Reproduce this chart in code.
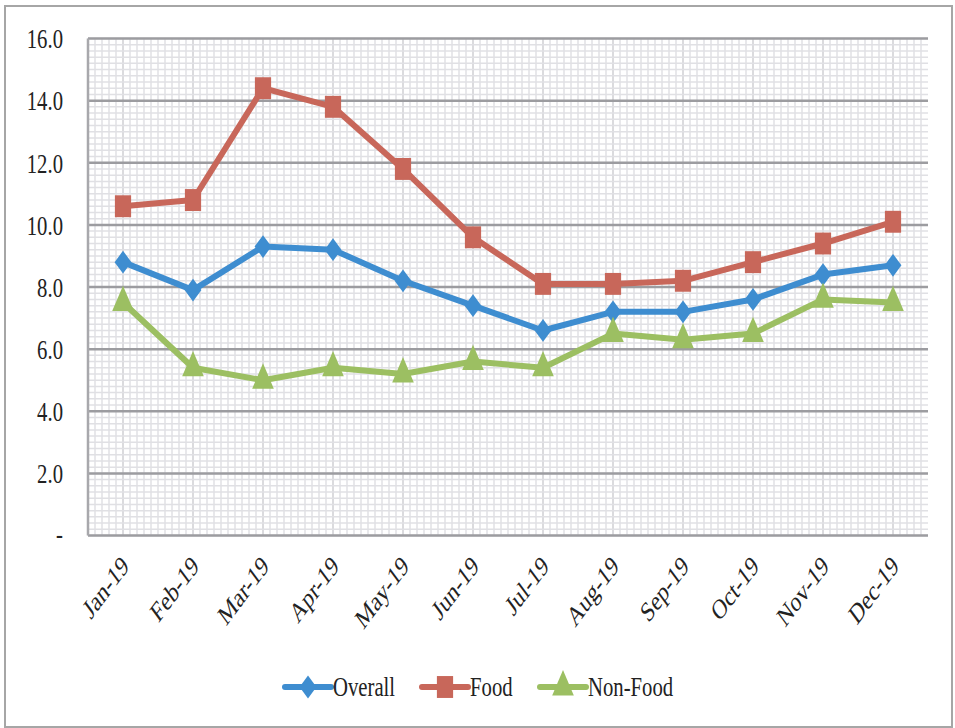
<!doctype html>
<html lang="en">
  <head>
    <meta charset="UTF-8" />
    <title>Overall, Food and Non-Food 2019</title>
    <script src="https://d3js.org/d3.v7.min.js"></script>
    <style>
      body {
        margin: 0;
        background: #fff;
      }
      text {
        font-family: 'Liberation Serif', 'Times New Roman', serif;
        fill: #222;
      }
    </style>
  </head>
  <body>
    <div id="chart"></div>
    <script>
      // Data
      const months = [
        'Jan-19', 'Feb-19', 'Mar-19', 'Apr-19', 'May-19', 'Jun-19',
        'Jul-19', 'Aug-19', 'Sep-19', 'Oct-19', 'Nov-19', 'Dec-19',
      ];
      const overall = [8.8, 7.9, 9.3, 9.2, 8.2, 7.4, 6.6, 7.2, 7.2, 7.6, 8.4, 8.7];
      const food = [10.6, 10.8, 14.4, 13.8, 11.8, 9.6, 8.1, 8.1, 8.2, 8.8, 9.4, 10.1];
      const nonFood = [7.5, 5.4, 5.0, 5.4, 5.2, 5.6, 5.4, 6.5, 6.3, 6.5, 7.6, 7.5];
      const yTicks = [0, 2, 4, 6, 8, 10, 12, 14, 16];

      const W = 955;
      const H = 728;
      const plot = { left: 88, top: 38.5, right: 928, bottom: 535.5 };
      const sx = 0.74; // picture is squeezed sideways

      const series = [
        { name: 'Overall', values: overall, color: '#3E8DD0', symbol: 'diamond' },
        { name: 'Food', values: food, color: '#C8675A', symbol: 'square' },
        { name: 'Non-Food', values: nonFood, color: '#9CBF62', symbol: 'triangle' },
      ];

      const svg = d3
        .select('#chart')
        .append('svg')
        .attr('width', W)
        .attr('height', H);

      // outer frame
      svg
        .append('rect')
        .attr('x', 5)
        .attr('y', 6)
        .attr('width', 947)
        .attr('height', 721)
        .attr('fill', '#fff')
        .attr('stroke', '#A6A6A6')
        .attr('stroke-width', 2);

      const x = d3
        .scaleBand()
        .domain(months)
        .range([plot.left, plot.right]);
      const y = d3
        .scaleLinear()
        .domain([0, 16])
        .range([plot.bottom, plot.top]);

      // minor grid
      const minorX = [];
      months.forEach((m) => {
        for (let i = 0; i < 10; i++) {
          minorX.push(x(m) + (x.bandwidth() * i) / 10);
        }
      });
      svg
        .append('g')
        .selectAll('line')
        .data(minorX)
        .enter()
        .append('line')
        .attr('x1', (d) => d)
        .attr('x2', (d) => d)
        .attr('y1', plot.top)
        .attr('y2', plot.bottom)
        .attr('stroke', (d, i) => (i % 10 === 5 ? '#CFCFD3' : '#E0E0E4'))
        .attr('stroke-width', 1.5);

      svg
        .append('g')
        .selectAll('line')
        .data(d3.range(0, 16.001, 0.2))
        .enter()
        .append('line')
        .attr('x1', plot.left)
        .attr('x2', plot.right)
        .attr('y1', (d) => y(d))
        .attr('y2', (d) => y(d))
        .attr('stroke', '#E0E0E4')
        .attr('stroke-width', 1.5);

      // major grid
      svg
        .append('g')
        .selectAll('line')
        .data(yTicks)
        .enter()
        .append('line')
        .attr('x1', plot.left)
        .attr('x2', plot.right)
        .attr('y1', (d) => y(d))
        .attr('y2', (d) => y(d))
        .attr('stroke', '#9C9CA0')
        .attr('stroke-width', 2.5);

      svg
        .append('line')
        .attr('x1', plot.left)
        .attr('x2', plot.left)
        .attr('y1', plot.top)
        .attr('y2', plot.bottom)
        .attr('stroke', '#A8A8AC')
        .attr('stroke-width', 2.5);

      // y labels
      svg
        .append('g')
        .selectAll('text')
        .data(yTicks)
        .enter()
        .append('text')
        .attr('transform', (d) => `translate(63,${y(d)}) scale(${sx},1)`)
        .attr('dy', (d) => (d === 0 ? '0.25em' : '0.35em'))
        .attr('text-anchor', 'end')
        .style('font-size', '28px')
        .text((d) => (d === 0 ? '-   ' : d.toFixed(1)));

      // x labels
      svg
        .append('g')
        .selectAll('text')
        .data(months)
        .enter()
        .append('text')
        .attr(
          'transform',
          (d) =>
            `translate(${x(d) + x.bandwidth() / 2 + 7},${plot.bottom + 32}) scale(${sx},1) rotate(-45)`,
        )
        .attr('text-anchor', 'end')
        .style('font-size', '28px')
        .text((d) => d);

      // marker shapes, squeezed like the rest of the picture
      const shapes = {
        diamond: d3.symbol().type(d3.symbolDiamond2).size(330),
        square: d3.symbol().type(d3.symbolSquare).size(480),
        triangle: d3.symbol().type(d3.symbolTriangle).size(370),
      };

      const line = d3
        .line()
        .x((d, i) => x(months[i]) + x.bandwidth() / 2)
        .y((d) => y(d));

      series.forEach((s) => {
        const g = svg.append('g');
        g.append('path')
          .attr('d', line(s.values))
          .attr('fill', 'none')
          .attr('stroke', s.color)
          .attr('stroke-width', 6)
          .attr('stroke-linejoin', 'round');
        g.selectAll('path.marker')
          .data(s.values)
          .enter()
          .append('path')
          .attr('class', 'marker')
          .attr(
            'transform',
            (d, i) =>
              `translate(${x(months[i]) + x.bandwidth() / 2},${y(d)}) scale(${sx},1)`,
          )
          .attr('d', shapes[s.symbol]())
          .attr('fill', s.color);
      });

      // legend
      const legendItems = [
        { x: 285, textX: 333 },
        { x: 422, textX: 470 },
        { x: 540, textX: 588 },
      ];
      const legendY = 687;
      series.forEach((s, i) => {
        const li = legendItems[i];
        const g = svg.append('g');
        g.append('line')
          .attr('x1', li.x)
          .attr('x2', li.x + 46)
          .attr('y1', legendY)
          .attr('y2', legendY)
          .attr('stroke', s.color)
          .attr('stroke-width', 6)
          .attr('stroke-linecap', 'round');
        g.append('path')
          .attr('transform', `translate(${li.x + 23},${legendY}) scale(${sx},1)`)
          .attr('d', shapes[s.symbol]())
          .attr('fill', s.color);
        g.append('text')
          .attr('transform', `translate(${li.textX},${legendY}) scale(${sx},1)`)
          .attr('dy', '0.33em')
          .style('font-size', '28px')
          .text(s.name);
      });
    </script>
  </body>
</html>
